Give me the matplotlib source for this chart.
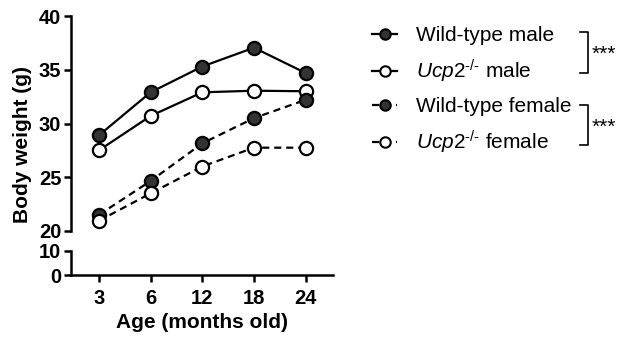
import numpy as np
import matplotlib
matplotlib.use("Agg")
import matplotlib.pyplot as plt
from matplotlib.lines import Line2D

plt.rcParams['font.family'] = ['Liberation Sans', 'DejaVu Sans']
plt.rcParams['mathtext.fontset'] = 'custom'
plt.rcParams['mathtext.rm'] = 'Liberation Sans'
plt.rcParams['mathtext.it'] = 'Liberation Sans:italic'

# data
ages = ['3', '6', '12', '18', '24']
wt_male = [28.9, 32.9, 35.3, 37.05, 34.7]
ko_male = [27.5, 30.7, 32.9, 33.05, 33.0]
wt_female = [21.5, 24.65, 28.15, 30.5, 32.2]
ko_female = [20.95, 23.5, 26.0, 27.75, 27.75]

dash = (0, (3.2, 2.2))
ko = '$\\mathit{Ucp2}^{\\mathit{\u2010/\u2010}}$'
series = [
    (wt_male, 'Wild-type male', '#333333', '-'),
    (ko_male, ko + ' male', 'white', '-'),
    (wt_female, 'Wild-type female', '#333333', dash),
    (ko_female, ko + ' female', 'white', dash),
]

fig = plt.figure(figsize=(6.35, 3.41), dpi=100)
W, H = 635, 341
left, right = 71 / W, 333 / W
ax = fig.add_axes([left, 1 - 231 / H, right - left, (231 - 16) / H])
ax2 = fig.add_axes([left, 1 - 275.3 / H, right - left, (275.3 - 250.7) / H])

x = np.arange(len(ages))
handles = []
for vals, lab, fc, ls in series:
    ax.plot(x, vals, color='black', lw=1.6, ls=ls, marker='o', ms=9.5,
            mfc=fc, mec='black', mew=1.6, clip_on=False)
    handles.append(Line2D([], [], color='black', lw=1.6, ls=ls, marker='o',
                          ms=7.5, mfc=fc, mec='black', mew=1.5, label=lab))

for a in (ax, ax2):
    a.set_xlim(-0.54, 4.53)
    a.spines['top'].set_visible(False)
    a.spines['right'].set_visible(False)
    a.spines['left'].set_linewidth(1.8)
    a.spines['bottom'].set_linewidth(1.8)
    a.tick_params(width=1.8, length=5, labelsize=14.5, pad=2)
    a.patch.set_visible(False)

ax.set_ylim(20, 40)
ax.set_yticks([20, 25, 30, 35, 40])
ax.spines['bottom'].set_visible(False)
ax.set_xticks([])
ax.set_yticklabels(['20', '25', '30', '35', '40'], fontweight='bold')

ax2.set_ylim(0, 10)
ax2.set_yticks([0, 10])
ax2.set_yticklabels(['0', '10'], fontweight='bold')
ax2.set_xticks(x)
ax2.set_xticklabels(ages, fontweight='bold')
ax2.tick_params(axis='x', pad=5)

fig.text(23 / W, 1 - 144 / H, 'Body weight (g)', rotation=90, ha='center',
         va='center', fontsize=15, fontweight='bold')
fig.text(202 / W, 1 - 323 / H, 'Age (months old)', ha='center', va='center',
         fontsize=15, fontweight='bold')

fig.legend(handles=handles, loc='upper left',
           bbox_to_anchor=(372 / W, 1 - 26 / H), frameon=False,
           fontsize=15, handlelength=1.2, handletextpad=0.9,
           labelspacing=0.6, borderpad=0, borderaxespad=0)

# significance brackets
for y0, y1 in [(32, 73), (105, 145)]:
    fig.add_artist(Line2D([580 / W, 588 / W, 588 / W, 580 / W],
                          [1 - y0 / H, 1 - y0 / H, 1 - y1 / H, 1 - y1 / H],
                          color='black', lw=1.2))
    fig.text(592 / W, 1 - ((y0 + y1) / 2 + 2) / H, '***', ha='left',
             va='center', fontsize=15)

fig.savefig('out.png', dpi=100)
